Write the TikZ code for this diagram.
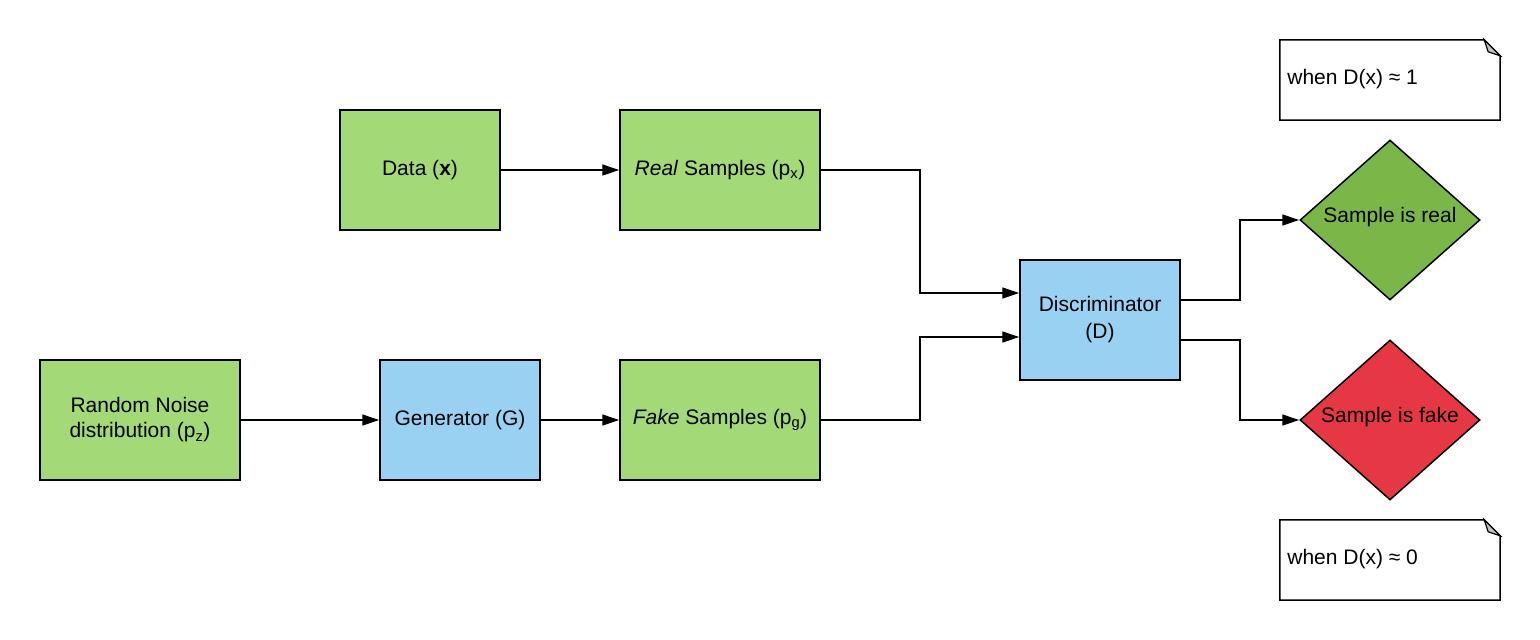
\documentclass[tikz,border=0pt]{standalone}
\usepackage{fontspec}
\setmainfont{Liberation Sans}
\usetikzlibrary{arrows.meta,shapes.geometric,positioning}
\definecolor{lgreen}{HTML}{A3D977}
\definecolor{lblue}{HTML}{99D1F3}
\definecolor{dgreen}{HTML}{7AB648}
\definecolor{lred}{HTML}{E63744}
\definecolor{foldgray}{HTML}{BFBFBF}
\begin{document}
\begin{tikzpicture}[x=1pt,y=-1pt,
  every node/.style={font=\fontsize{21}{25}\selectfont},
  box/.style={draw=black,line width=1.5pt,minimum height=120pt,inner sep=0pt,align=center},
  gbox/.style={box,fill=lgreen},
  bbox/.style={box,fill=lblue},
  dia/.style={diamond,draw=black,line width=1.5pt,minimum width=180pt,minimum height=160pt,inner sep=0pt,aspect=1.125},
  conn/.style={line width=1.3pt,-{Triangle[length=17pt,width=11pt]}},
  notebox/.style={minimum width=220pt,minimum height=80pt,inner sep=0pt},
]
\useasboundingbox (0,0) rectangle (1540,640);
\node[gbox,minimum width=160pt] (data) at (420,170) {Data (\textbf{x})};
\node[gbox,minimum width=200pt] (real) at (720,170) {\textit{Real} Samples (p\textsubscript{x})};
\node[gbox,minimum width=200pt] (noise) at (140,420) {Random Noise\\distribution (p\textsubscript{z})};
\node[bbox,minimum width=160pt] (gen) at (460,420) {Generator (G)};
\node[gbox,minimum width=200pt] (fake) at (720,420) {\textit{Fake} Samples (p\textsubscript{g})};
\node[bbox,minimum width=160pt,font=\fontsize{21}{27}\selectfont] (disc) at (1100,320) {Discriminator\\(D)};
\node[dia,fill=dgreen] (sreal) at (1390,220) {};
\node at (1390,217) (treal) {Sample is real};
\node[dia,fill=lred] (sfake) at (1390,420) {};
\node at (1390,417) (tfake) {Sample is fake};

% notes
\foreach \n/\y/\t in {n1/80/1, n2/560/0}{
  \node[notebox] (\n) at (1390,\y) {};
  \draw[line width=1.5pt,fill=white] (\n.north west) -- ([xshift=-16pt]\n.north east) -- ([yshift=-16pt]\n.north east) -- (\n.south east) -- (\n.south west) -- cycle;
  \draw[line width=1.2pt,fill=foldgray] ([xshift=-16pt]\n.north east) -- ([xshift=-12pt,yshift=-12pt]\n.north east) -- ([yshift=-16pt]\n.north east) -- cycle;
  \node[anchor=west] (\n t) at ([xshift=4pt,yshift=1pt]\n.west) {when D(x) ≈ \t};
}

\coordinate (c1) at (920,170);
\coordinate (c2) at (920,293);
\coordinate (c3) at (920,420);
\coordinate (c4) at (920,337);
\coordinate (d1) at (1180,300);
\coordinate (d2) at (1240,300);
\coordinate (d3) at (1240,220);
\coordinate (d4) at (1180,340);
\coordinate (d5) at (1240,340);
\coordinate (d6) at (1240,420);

\draw[conn] (data) -- (real);
\draw[conn] (noise) -- (gen);
\draw[conn] (gen) -- (fake);
\draw[conn] (real.east) -- (c1) -- (c2) -- (c2 -| disc.west);
\draw[conn] (fake.east) -- (c3) -- (c4) -- (c4 -| disc.west);
\draw[conn] (d1) -- (d2) -- (d3) -- (sreal.west);
\draw[conn] (d4) -- (d5) -- (d6) -- (sfake.west);
\end{tikzpicture}
\end{document}
